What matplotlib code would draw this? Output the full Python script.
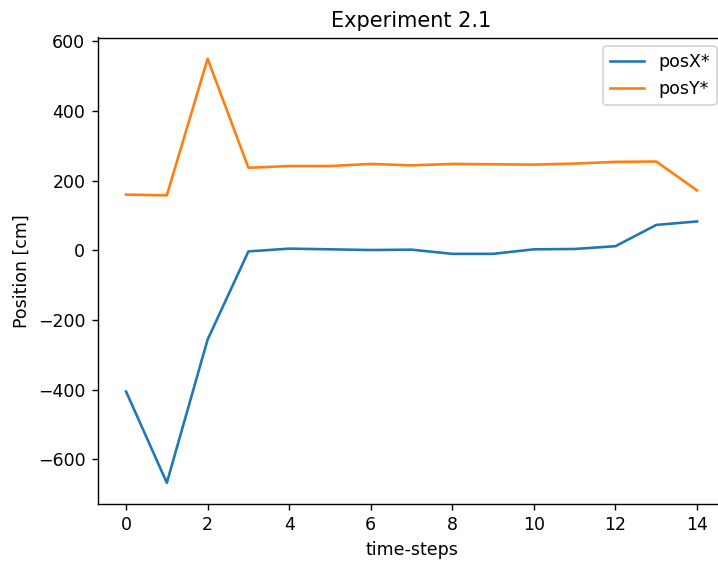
import numpy as np
import matplotlib
matplotlib.use('Agg')
import matplotlib.pyplot as plt

# Values
steps = list(range(15))
pos_x = [-405, -667, -256, -3, 5, 3, 1, 2, -10, -10, 3, 4, 12, 73, 83]
pos_y = [160, 158, 550, 237, 242, 242, 248, 244, 248, 247, 246, 249, 254, 255, 172]

DPI = 125
fig = plt.figure(figsize=(718 / DPI, 563 / DPI), dpi=DPI)
# axes run a little past the right edge, as in the cropped reference
ax = fig.add_axes([97.5 / 718, (563 - 504) / 563, (725.6 - 97.5) / 718, (504 - 37.5) / 563])

ax.plot(steps, pos_x, label='posX*')
ax.plot(steps, pos_y, label='posY*')
ax.set_title('Experiment 2.1')
ax.set_xlabel('time-steps')
ax.set_ylabel('Position [cm]')
ax.legend(loc='upper right')
ax.spines['right'].set_visible(False)  # off the cropped edge anyway

fig.savefig('out.png', dpi=DPI)
